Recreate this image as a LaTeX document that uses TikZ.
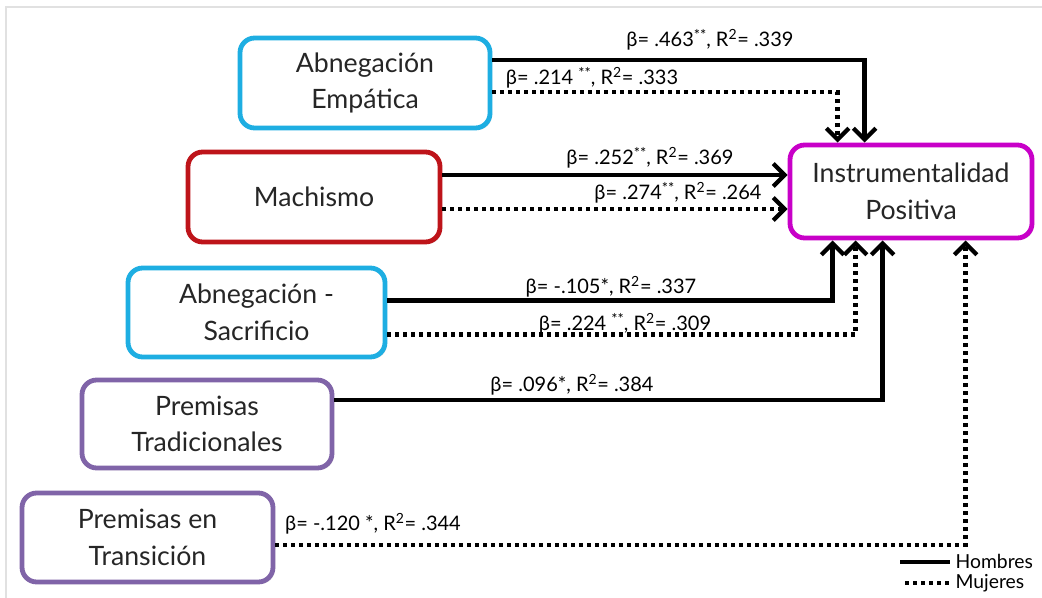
\documentclass[tikz,border=0pt]{standalone}
\usepackage{fontspec}
\setmainfont{Lato}
\usetikzlibrary{arrows.meta,calc,shadows}
\definecolor{cyanb}{RGB}{30,174,226}
\definecolor{redb}{RGB}{190,20,26}
\definecolor{magb}{RGB}{200,0,200}
\definecolor{purb}{RGB}{128,100,168}
\definecolor{framec}{RGB}{225,225,225}
\newcommand{\sst}{\raisebox{0.3em}{\fontsize{11}{11}\selectfont **}}
\begin{document}
\begin{tikzpicture}[x=0.75pt,y=-0.75pt,
  box/.style={draw, line width=3.6pt, rounded corners=11pt, fill=white, align=center,
    text=black!85, font=\fontsize{20}{27.5}\selectfont,
    drop shadow={shadow xshift=1.5pt, shadow yshift=-1.5pt, opacity=0.25}},
  men/.style={line width=3.2pt, -{Straight Barb[length=8.5pt,width=17pt]}},
  women/.style={men, dash pattern=on 3pt off 3pt},
  lab/.style={font=\fontsize{15}{17}\selectfont, text=black, inner sep=1pt},
  leg/.style={font=\fontsize{14.5}{16}\selectfont, text=black, anchor=west, inner sep=1pt}]
\useasboundingbox (0,0) rectangle (1042,598);
\draw[framec, line width=1.5pt] (6,598) -- (6,7) -- (1042,7);

\node[box, draw=cyanb, minimum width=187.5pt, minimum height=67.5pt] (AE) at (365,83) {Abnegación\\Empática};
\node[box, draw=redb, minimum width=189pt, minimum height=67.5pt] (MA) at (314,197) {Machismo};
\node[box, draw=magb, minimum width=181.5pt, minimum height=69.75pt] (IP) at (911,191.5) {Instrumentalidad\\Positiva};
\node[box, draw=cyanb, minimum width=192.75pt, minimum height=66.75pt] (AS) at (256.5,312.5) {Abnegación -\\Sacrificio};
\node[box, draw=purb, minimum width=187.5pt, minimum height=66pt] (PT) at (207,424) {Premisas\\Tradicionales};
\node[box, draw=purb, minimum width=188.25pt, minimum height=66.75pt] (PE) at (147.5,537.5) {Premisas en\\Transición};

\draw[men] ($(AE.east)+(0,-23)$) -| ($(IP.north west)+(77,0)$);
\draw[women] ($(AE.east)+(0,9)$) -| ($(IP.north west)+(50,0)$);
\draw[men] ($(MA.east)+(0,-22)$) -- ($(IP.west |- MA.east)+(0,-22)$);
\draw[women] ($(MA.east)+(0,12)$) -- ($(IP.west |- MA.east)+(0,12)$);
\draw[men] ($(AS.east)+(0,-12)$) -| ($(IP.south west)+(45,0)$);
\draw[women] ($(AS.east)+(0,22)$) -| ($(IP.south west)+(68,0)$);
\draw[men] ($(PT.east)+(0,-24)$) -| ($(IP.south west)+(95,0)$);
\draw[women] ($(PE.east)+(0,7.5)$) -| ($(IP.south west)+(178,0)$);

\node[lab] (L1) at (710,40) {β= .463\sst, R\textsuperscript{2}= .339};
\node[lab] (L2) at (592,78) {β= .214 \sst, R\textsuperscript{2}= .333};
\node[lab] (L3) at (650,158) {β= .252\sst, R\textsuperscript{2}= .369};
\node[lab] (L4) at (678,193) {β= .274\sst, R\textsuperscript{2}= .264};
\node[lab] (L5) at (611,287) {β= -.105*, R\textsuperscript{2}= .337};
\node[lab] (L6) at (625,324) {β= .224 \sst, R\textsuperscript{2}= .309};
\node[lab] (L7) at (572,385) {β= .096*, R\textsuperscript{2}= .384};
\node[lab] (L8) at (373,524) {β= -.120 *, R\textsuperscript{2}= .344};

\coordinate (h1) at (900,562);
\coordinate (h2) at (950,562);
\coordinate (m1) at (905,583);
\coordinate (m2) at (950,583);
\draw[line width=3pt] (h1) -- (h2);
\draw[line width=3pt, dash pattern=on 3pt off 3pt] (m1) -- (m2);
\node[leg] (LH) at (954,561) {Hombres};
\node[leg] (LM) at (954,583) {Mujeres};
\end{tikzpicture}
\end{document}
